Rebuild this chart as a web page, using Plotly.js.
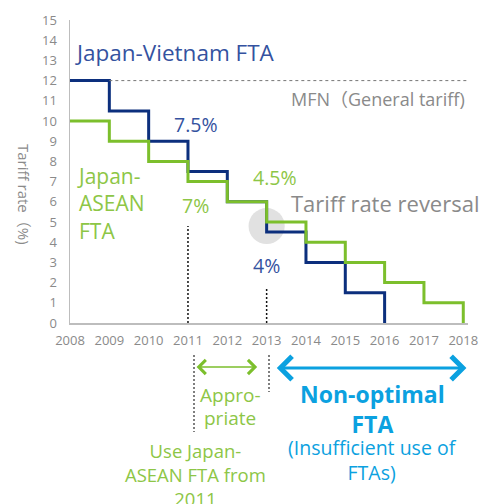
<!DOCTYPE html>
<html>
<head>
<meta charset="utf-8">
<script src="https://cdn.plot.ly/plotly-3.0.1.min.js"></script>
<style>html,body{margin:0;padding:0;background:#fff;}#chart{width:497px;height:504px;}</style>
</head>
<body>
<div id="chart"></div>
<script>
// Data
const vietnamYears = [2008, 2009, 2010, 2011, 2012, 2013, 2014, 2015, 2016];
const vietnamRates = [12, 10.5, 9, 7.5, 6, 4.5, 3, 1.5, 0];
const aseanYears = [2008, 2009, 2010, 2011, 2012, 2013, 2014, 2015, 2016, 2017, 2018];
const aseanRates = [10, 9, 8, 7, 6, 5, 4, 3, 2, 1, 0];
const tickYears = [2008, 2009, 2010, 2011, 2012, 2013, 2014, 2015, 2016, 2017, 2018];
const yTicks = [0,1,2,3,4,5,6,7,8,9,10,11,12,13,14,15];
const mfnRate = 12;

const FONT = '"Open Sans", "Noto Sans CJK JP", sans-serif';
const GRAY = '#8a8a8a';
const NAVY = '#0c2f7d';
const BLUE_TXT = '#3452a0';
const GREEN = '#7cbf2c';
const GREEN_TXT = '#8dc646';
const CYAN = '#0ba1e0';

// pixel helpers for out-of-plot items
const M = {l: 70, r: 29, t: 20, b: 181};
const plotH = 504 - M.t - M.b;
const plotW = 497 - M.l - M.r;
const py = p => (504 - M.b - p) / plotH;
const px = p => (p - M.l) / plotW;

const traces = [
  {x: vietnamYears, y: vietnamRates, type: 'scatter', mode: 'lines',
   line: {shape: 'hv', color: NAVY, width: 3}, hoverinfo: 'skip', cliponaxis: false},
  {x: aseanYears, y: aseanRates, type: 'scatter', mode: 'lines',
   line: {shape: 'hv', color: GREEN, width: 3}, hoverinfo: 'skip', cliponaxis: false}
];

const shapes = [
  {type: 'circle', xref: 'x', yref: 'y', x0: 2013 - 0.46, x1: 2013 + 0.46, y0: 4.8 - 0.89, y1: 4.8 + 0.89,
   fillcolor: '#e1e1e1', line: {width: 0}, layer: 'below'},
  {type: 'line', xref: 'x', yref: 'y', x0: 2009, x1: 2018.08, y0: mfnRate, y1: mfnRate,
   line: {color: '#777', width: 1, dash: '3px,3px'}},
  {type: 'line', xref: 'x', yref: 'y', x0: 2011, x1: 2011, y0: 0, y1: 4.8,
   line: {color: '#111', width: 1.5, dash: '2px,2px'}},
  {type: 'line', xref: 'x', yref: 'y', x0: 2013, x1: 2013, y0: 0, y1: 1.7,
   line: {color: '#111', width: 1.5, dash: '2px,2px'}},
  {type: 'line', xref: 'paper', yref: 'paper', x0: px(194), x1: px(194), y0: py(355), y1: py(432),
   line: {color: '#555', width: 1.5, dash: '2px,2px'}},
  {type: 'line', xref: 'paper', yref: 'paper', x0: px(269), x1: px(269), y0: py(355), y1: py(392),
   line: {color: '#555', width: 1.5, dash: '2px,2px'}}
];

const ann = (o) => Object.assign({showarrow: false, xref: 'x', yref: 'y'}, o);
const annotations = [
  ann({x: 2008.08, y: 13.37, xanchor: 'left', yanchor: 'middle', text: 'Japan-Vietnam FTA',
       font: {family: FONT, size: 22.5, color: BLUE_TXT}}),
  ann({x: 2018.1, y: 11.09, xanchor: 'right', yanchor: 'middle', text: 'MFN（General tariff)',
       font: {family: FONT, size: 18, color: GRAY}}),
  ann({x: 2011.2, y: 9.85, xanchor: 'center', yanchor: 'middle', text: '7.5%',
       font: {family: FONT, size: 19.5, color: BLUE_TXT}}),
  ann({x: 2008.12, y: 5.94, xanchor: 'left', yanchor: 'middle', align: 'left', text: 'Japan-<br>ASEAN<br>FTA',
       font: {family: FONT, size: 21, color: GREEN_TXT}}),
  ann({x: 2011.2, y: 5.8, xanchor: 'center', yanchor: 'middle', text: '7%',
       font: {family: FONT, size: 19.5, color: GREEN_TXT}}),
  ann({x: 2013.22, y: 7.18, xanchor: 'center', yanchor: 'middle', text: '4.5%',
       font: {family: FONT, size: 19.5, color: GREEN_TXT}}),
  ann({x: 2013.58, y: 5.94, xanchor: 'left', yanchor: 'middle', text: 'Tariff rate reversal',
       font: {family: FONT, size: 22, color: GRAY}}),
  ann({x: 2012.99, y: 2.87, xanchor: 'center', yanchor: 'middle', text: '4%',
       font: {family: FONT, size: 19.5, color: BLUE_TXT}}),
  // y-axis title (reads top-to-bottom)
  ann({xref: 'paper', yref: 'paper', x: px(24), y: py(194), xanchor: 'center', yanchor: 'middle',
       textangle: 90, text: 'Tariff rate（%)', font: {family: FONT, size: 15, color: GRAY}}),
  // below-axis texts
  ann({yref: 'paper', x: 2012.07, y: py(395), xanchor: 'center', yanchor: 'middle', text: 'Appro-',
       font: {family: FONT, size: 19, color: GREEN_TXT}}),
  ann({yref: 'paper', x: 2012.07, y: py(418), xanchor: 'center', yanchor: 'middle', text: 'priate',
       font: {family: FONT, size: 19, color: GREEN_TXT}}),
  ann({yref: 'paper', x: 2011.18, y: py(474), xanchor: 'center', yanchor: 'middle', text: 'Use Japan-<br>ASEAN FTA from<br>2011',
       font: {family: FONT, size: 18.5, color: GREEN_TXT}}),
  ann({yref: 'paper', x: 2015.68, y: py(409), xanchor: 'center', yanchor: 'middle', text: '<b>Non-optimal<br>FTA</b>',
       font: {family: FONT, size: 23, color: CYAN}}),
  ann({yref: 'paper', x: 2015.68, y: py(460), xanchor: 'center', yanchor: 'middle', text: '(Insufficient use of<br>FTAs)',
       font: {family: FONT, size: 19.5, color: CYAN}}),
  // arrows
  {xref: 'x', yref: 'paper', x: 2012.76, y: py(367), axref: 'x', ax: 2011.18, ayref: 'pixel', ay: 0,
   text: '', showarrow: true, arrowside: 'end+start', arrowhead: 4, startarrowhead: 4,
   arrowsize: 2.1, startarrowsize: 2.1, arrowwidth: 1.3, arrowcolor: GREEN, standoff: 0, startstandoff: 0},
  {xref: 'x', yref: 'paper', x: 2018.08, y: py(368), axref: 'x', ax: 2013.22, ayref: 'pixel', ay: 0,
   text: '', showarrow: true, arrowside: 'end+start', arrowhead: 4, startarrowhead: 4,
   arrowsize: 1.5, startarrowsize: 1.5, arrowwidth: 3, arrowcolor: CYAN, standoff: 0, startstandoff: 0}
];

const axisCommon = {
  showline: true, linecolor: '#bdbdbd', linewidth: 1.5, showgrid: false, zeroline: false,
  ticks: '', tickfont: {family: FONT, size: 13, color: GRAY}, fixedrange: true
};

const layout = {
  width: 497, height: 504,
  margin: M,
  paper_bgcolor: '#fff', plot_bgcolor: '#fff',
  showlegend: false,
  xaxis: Object.assign({}, axisCommon, {range: [2008, 2018.12], tickvals: tickYears,
    ticktext: tickYears.map(String), ticklabelstandoff: 5}),
  yaxis: Object.assign({}, axisCommon, {range: [0, 15], tickvals: yTicks, ticklabelstandoff: 9}),
  shapes: shapes,
  annotations: annotations
};

Plotly.newPlot('chart', traces, layout, {staticPlot: true, displayModeBar: false});
</script>
</body>
</html>
